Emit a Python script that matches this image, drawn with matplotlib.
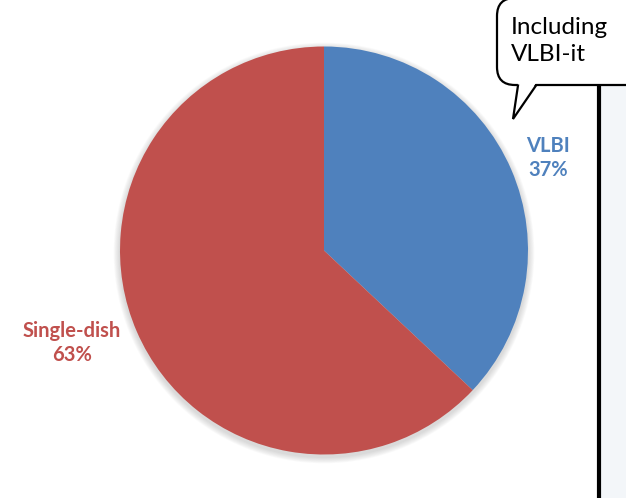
import matplotlib
matplotlib.use("Agg")
import matplotlib.pyplot as plt
from matplotlib.patches import FancyBboxPatch, Polygon, Circle, Rectangle

# data
labels = ["VLBI", "Single-dish"]
shares = [37, 63]
colors = ["#4F81BD", "#C0504D"]
bubble_text = "Including\nVLBI-it"

W, H = 626, 498
fig = plt.figure(figsize=(W / 100, H / 100), dpi=100)
ax = fig.add_axes([0, 0, 1, 1])

cx, cy, r = 324, H - 250.5, 204

# right-hand panel and its border line
ax.add_patch(Rectangle((599, 0), 30, H, facecolor="#f3f6f9", edgecolor="none", zorder=0))
ax.plot([598.5, 598.5], [0, H - 85], color="black", lw=3, solid_capstyle="butt", zorder=1)

# soft shadow behind the pie
for k in range(1, 8):
    ax.add_patch(Circle((cx, cy - 2.5), r + k * 0.9, facecolor="#808080",
                        alpha=0.045, edgecolor="none", zorder=1))

wedges, _ = ax.pie(shares, colors=colors, startangle=90, counterclock=False,
                   center=(cx, cy), radius=r, frame=True,
                   wedgeprops=dict(linewidth=0, zorder=2))
for w in wedges:
    w.set_zorder(2)

font = ["Lato", "DejaVu Sans"]
ax.text(548, H - 158, "VLBI\n37%", color=colors[0], fontsize=14.5, fontweight="bold",
        ha="center", va="center", family=font, linespacing=1.3)
ax.text(72, H - 343, "Single-dish\n63%", color=colors[1], fontsize=14.5, fontweight="bold",
        ha="center", va="center", family=font, linespacing=1.3)

# speech bubble
ax.add_patch(FancyBboxPatch((497, H - 85), 170, 87,
                            boxstyle="round,pad=0,rounding_size=18",
                            facecolor="white", edgecolor="black", lw=1.6, zorder=5))
tail = [(518, H - 83), (513, H - 119), (536, H - 83)]
ax.add_patch(Polygon(tail, closed=True, facecolor="white", edgecolor="none", zorder=6))
ax.plot([518, 513, 536], [H - 85.5, H - 119, H - 85.5], color="black", lw=1.6,
        solid_joinstyle="miter", zorder=7)
ax.text(511, H - 41, bubble_text, fontsize=17.5, ha="left", va="center",
        family=font, linespacing=1.35, zorder=8)

ax.set_xlim(0, W)
ax.set_ylim(0, H)
ax.set_aspect("equal")
ax.axis("off")

fig.savefig("out.png", dpi=100)
